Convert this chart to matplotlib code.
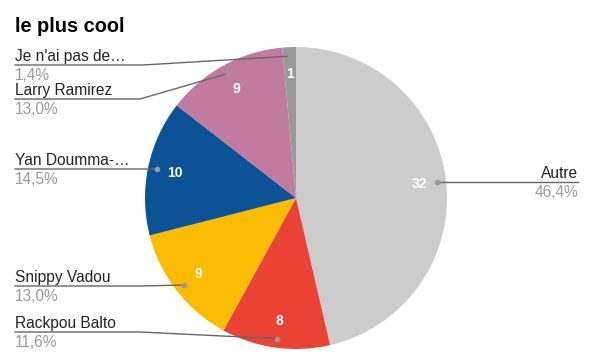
import math

import matplotlib

matplotlib.use("Agg")
import matplotlib.pyplot as plt

plt.rcParams["font.family"] = ["Liberation Sans", "DejaVu Sans"]

TITLE = "le plus cool"
names = ["Autre", "Rackpou Balto", "Snippy Vadou", "Yan Doumma-…", "Larry Ramirez", "Je n'ai pas de…"]
counts = [32, 8, 9, 10, 9, 1]
pct_labels = ["46,4%", "11,6%", "13,0%", "14,5%", "13,0%", "1,4%"]
colors = ["#cccccc", "#ea4335", "#fbbc04", "#0b5394", "#c27ba0", "#999999"]

# layout (pixel coords, y from top)
W, H = 589, 362
CX, CY, R = 296, 198, 151
line_y = [182, 332, 286, 169, 99, 65]
elbow_x = [None, 140, 140, 140, 140, 143]


def fy(y):
    return H - y


fig = plt.figure(figsize=(W / 100, H / 100), dpi=100)
ax = fig.add_axes([0, 0, 1, 1])

wedges, _, autotexts = ax.pie(
    counts,
    colors=colors,
    startangle=90,
    counterclock=False,
    center=(CX, fy(CY)),
    radius=R,
    autopct=lambda p: f"{round(p * sum(counts) / 100):d}",
    pctdistance=0.82,
    wedgeprops=dict(edgecolor="none", linewidth=0),
    textprops=dict(color="white", fontsize=10, fontweight="bold"),
)
ax.set_xlim(0, W)
ax.set_ylim(0, H)
ax.set_aspect("equal")
ax.axis("off")

for i, w in enumerate(wedges):
    mid = math.radians((w.theta1 + w.theta2) / 2)
    dx = CX + 0.94 * R * math.cos(mid)
    dy = fy(CY) + 0.94 * R * math.sin(mid)
    ly = fy(line_y[i])
    if i == 0:
        ax.plot([dx, 578], [dy, dy], color="#666666", lw=1, zorder=3)
        ax.plot(dx, dy, "o", ms=3, color="#999999", zorder=4)
        ax.text(578, dy + 4, names[i], ha="right", va="baseline", fontsize=11.2, color="#222222")
        ax.text(578, dy - 15, pct_labels[i], ha="right", va="baseline", fontsize=11.2, color="#999999")
    else:
        ax.plot([15, elbow_x[i], dx], [ly, ly, dy], color="#666666", lw=1, zorder=3)
        ax.plot(dx, dy, "o", ms=3, color="#999999", zorder=4)
        ax.text(15, ly + 4, names[i], ha="left", va="baseline", fontsize=11.2, color="#222222")
        ax.text(15, ly - 15, pct_labels[i], ha="left", va="baseline", fontsize=11.2, color="#999999")

fig.text(15 / W, 1 - 32 / H, TITLE, fontsize=14.4, fontweight="bold", color="#000000",
         ha="left", va="baseline")

fig.savefig("out.png", dpi=100)
